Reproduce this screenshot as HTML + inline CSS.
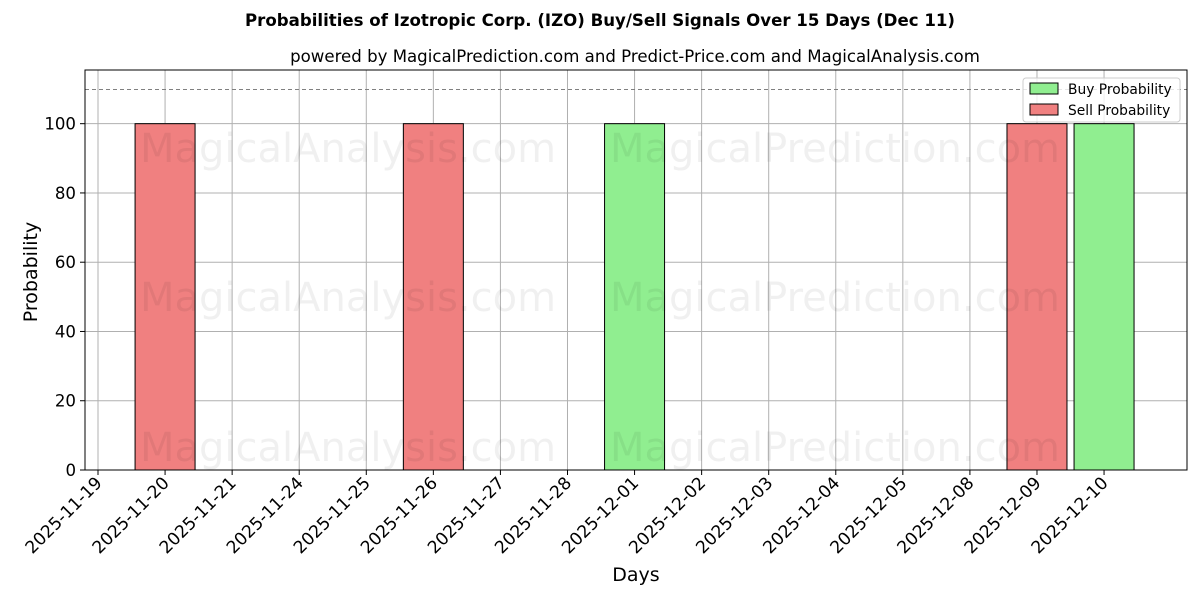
<!DOCTYPE html>
<html><head><meta charset="utf-8"><style>
body{margin:0;background:#fff;}
svg text{font-family:"DejaVu Sans","Liberation Sans",sans-serif;}
</style></head><body>
<svg id="chart" width="1200" height="600" xmlns="http://www.w3.org/2000/svg">
<text x="600" y="26" text-anchor="middle" font-size="16.6" font-weight="bold">Probabilities of Izotropic Corp. (IZO) Buy/Sell Signals Over 15 Days (Dec 11)</text>
<text x="635" y="62" text-anchor="middle" font-size="16.6">powered by MagicalPrediction.com and Predict-Price.com and MagicalAnalysis.com</text>
<g id="grid"></g>
<g id="bars"></g>
<g id="wm" fill="#000" fill-opacity="0.06" font-size="40">
<text x="348" y="162" text-anchor="middle">MagicalAnalysis.com</text>
<text x="835" y="162" text-anchor="middle">MagicalPrediction.com</text>
<text x="348" y="311" text-anchor="middle">MagicalAnalysis.com</text>
<text x="835" y="311" text-anchor="middle">MagicalPrediction.com</text>
<text x="348" y="461" text-anchor="middle">MagicalAnalysis.com</text>
<text x="835" y="461" text-anchor="middle">MagicalPrediction.com</text>
</g>
<line x1="85" x2="1187" y1="89.5" y2="89.5" stroke="#808080" stroke-dasharray="4,3" stroke-width="1"/>
<rect x="85" y="70" width="1102" height="400" fill="none" stroke="#000" stroke-width="1"/>
<g id="ticks"></g>
<text x="636" y="581" text-anchor="middle" font-size="19">Days</text>
<text transform="translate(37,272) rotate(-90)" text-anchor="middle" font-size="19">Probability</text>
<g>
<rect x="1023" y="78" width="157" height="44" fill="#fff" fill-opacity="0.8" stroke="#ccc" rx="3"/>
<rect x="1030" y="83" width="28" height="11" fill="#90ee90" stroke="#000"/>
<text x="1068" y="94" font-size="13.8">Buy Probability</text>
<rect x="1030" y="104" width="28" height="11" fill="#f08080" stroke="#000"/>
<text x="1068" y="115" font-size="13.8">Sell Probability</text>
</g>
</svg>
<script>
const categories=["2025-11-19","2025-11-20","2025-11-21","2025-11-24","2025-11-25","2025-11-26","2025-11-27","2025-11-28","2025-12-01","2025-12-02","2025-12-03","2025-12-04","2025-12-05","2025-12-08","2025-12-09","2025-12-10"];
const buyValues=[0,0,0,0,0,0,0,0,100,0,0,0,0,0,0,100];
const sellValues=[0,100,0,0,0,100,0,0,0,0,0,0,0,0,100,0];
const yTicks=[0,20,40,60,80,100];
const NS="http://www.w3.org/2000/svg";
const x=i=>98+i*67.07;
const y=v=>470-v*(400/115.5);
const bw=60;
function mk(tag,attrs,parent){const e=document.createElementNS(NS,tag);for(const k in attrs)e.setAttribute(k,attrs[k]);parent.appendChild(e);return e;}
const grid=document.getElementById('grid'),bars=document.getElementById('bars'),ticks=document.getElementById('ticks');
categories.forEach((c,i)=>{
  const g=mk('line',{x1:x(i),x2:x(i),y1:70,y2:470,stroke:'#b0b0b0','stroke-width':1},grid);
  
  
  const t=mk('line',{x1:x(i),x2:x(i),y1:470,y2:475,stroke:'#000'},ticks);
  
  
  const l=mk('text',{x:x(i)+5,y:484,'text-anchor':'end','font-size':17.2,transform:`rotate(-45 ${x(i)+5} 484)`},ticks);
  l.textContent=c;
  
  
});
yTicks.forEach(v=>{
  const g=mk('line',{x1:85,x2:1187,y1:y(v),y2:y(v),stroke:'#b0b0b0','stroke-width':1},grid);
  
  
  const t=mk('line',{x1:80,x2:85,y1:y(v),y2:y(v),stroke:'#000'},ticks);
  
  
  const l=mk('text',{x:76,y:y(v)+6,'text-anchor':'end','font-size':16.6},ticks);
  l.textContent=v;
  
  
});
categories.forEach((c,i)=>{
  if(sellValues[i]>0){
    const r=mk('rect',{x:x(i)-bw/2,y:y(sellValues[i]),width:bw,height:470-y(sellValues[i]),fill:'#f08080',stroke:'#000'},bars);
    
    
  }
  if(buyValues[i]>0){
    const r=mk('rect',{x:x(i)-bw/2,y:y(buyValues[i]),width:bw,height:470-y(buyValues[i]),fill:'#90ee90',stroke:'#000'},bars);
    
    
  }
});
</script>
</body></html>
